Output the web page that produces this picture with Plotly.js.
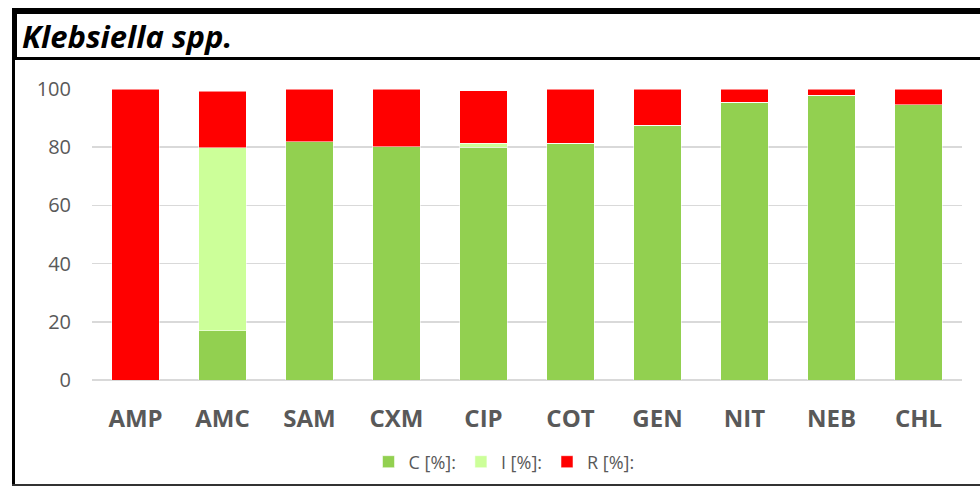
<!DOCTYPE html>
<html>
<head>
<meta charset="utf-8">
<script src="https://cdn.plot.ly/plotly-3.0.1.min.js"></script>
<style>html,body{margin:0;padding:0;background:#fff;}#chart{width:980px;height:486px;}</style>
</head>
<body>
<div id="chart"></div>
<script>
const categories = ["AMP","AMC","SAM","CXM","CIP","COT","GEN","NIT","NEB","CHL"];
const valuesC = [0, 16.9, 81.8, 80.1, 80.0, 81.3, 87.6, 95.5, 97.9, 94.6];
const valuesI = [0, 62.9, 0, 0, 1.4, 0, 0, 0, 0, 0];
const valuesR = [100, 19.5, 18.2, 19.9, 18.0, 18.7, 12.4, 4.5, 2.1, 5.4];
const seriesNames = ["C [%]:", "I [%]:", "R [%]:"];
const yTicks = [0, 20, 40, 60, 80, 100];

const W = 980, H = 486;
const px = x => x / W;
const py = y => 1 - y / H;
const line = {color: 'rgba(255,255,255,0.7)', width: 0.75};

const traces = [
  {type: 'bar', name: seriesNames[0], x: categories, y: valuesC, marker: {color: '#92D050', line: line}},
  {type: 'bar', name: seriesNames[1], x: categories, y: valuesI, marker: {color: '#CCFF99', line: line}},
  {type: 'bar', name: seriesNames[2], x: categories, y: valuesR, marker: {color: '#FF0000', line: line}}
];

function rect(x0, y0, x1, y1, color) {
  return {type: 'rect', xref: 'paper', yref: 'paper', x0: px(x0), x1: px(x1), y0: py(y1), y1: py(y0),
    fillcolor: color, line: {width: 0}, layer: 'above'};
}

const layout = {
  width: W, height: H,
  margin: {l: 0, r: 0, t: 0, b: 0},
  paper_bgcolor: '#fff', plot_bgcolor: '#fff',
  barmode: 'stack',
  bargap: 0.45,
  showlegend: true,
  legend: {orientation: 'h', x: px(504), xanchor: 'center', y: py(462), yanchor: 'middle',
    font: {family: 'Open Sans, sans-serif', size: 18, color: '#595959'}, traceorder: 'normal',
    itemwidth: 30},
  xaxis: {domain: [px(92), px(962)], tickfont: {family: 'Open Sans, sans-serif', size: 24, color: '#595959', weight: 'bold'},
    showgrid: false, showline: false, ticks: '', ticklen: 0, ticklabelstandoff: 22, fixedrange: true, automargin: false},
  yaxis: {domain: [py(380), py(89)], range: [0, 100], tickvals: yTicks, ticktext: yTicks.map(String),
    tickfont: {family: 'Open Sans, sans-serif', size: 20, color: '#595959'},
    showgrid: true, gridcolor: '#D9D9D9', gridwidth: 1.5, zeroline: true, zerolinecolor: '#D9D9D9', zerolinewidth: 1.5,
    showline: false, ticks: '', ticklabelstandoff: 20, automargin: false},
  shapes: [
    rect(12, 8, 980, 14, '#000'),
    rect(12, 8, 17, 60, '#000'),
    rect(12, 57, 980, 60, '#000'),
    rect(12, 60, 15, 486, '#000'),
    rect(12, 484, 980, 486, '#333')
  ],
  annotations: [
    {xref: 'paper', yref: 'paper', x: px(20), y: py(36), xanchor: 'left', yanchor: 'middle', showarrow: false,
     text: '<b><i>Klebsiella spp.</i></b>', font: {family: 'Open Sans, sans-serif', size: 31, color: '#000'}}
  ]
};

Plotly.newPlot('chart', traces, layout, {displayModeBar: false, staticPlot: true});
</script>
</body>
</html>
